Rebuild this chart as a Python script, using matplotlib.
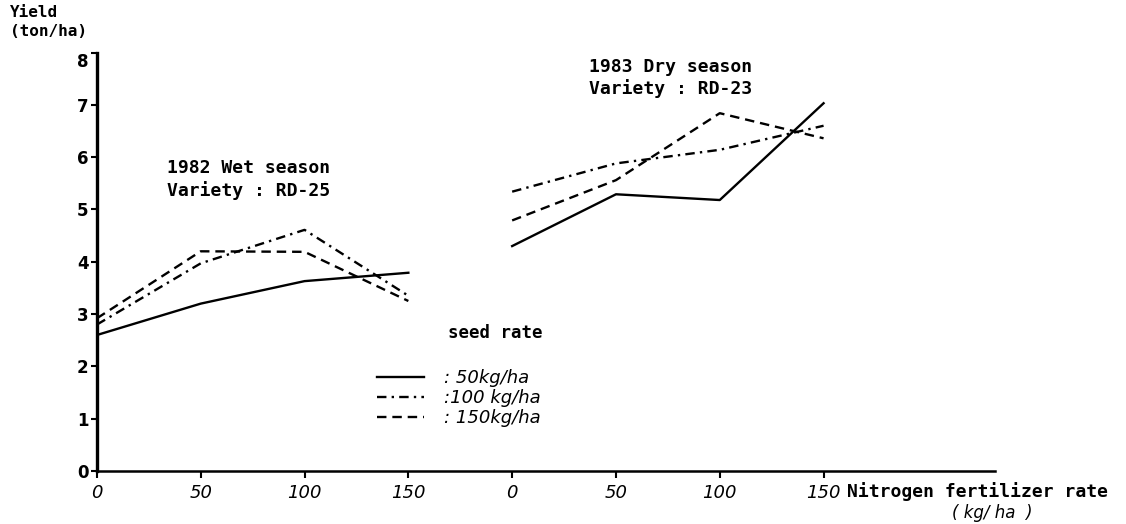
import matplotlib
matplotlib.use('Agg')
import matplotlib.pyplot as plt

# nitrogen rates (kg/ha); the dry season group is drawn to the right of the wet one
n_rate = [0, 50, 100, 150]
dry_offset = 200
x_ticks = [0, 50, 100, 150, 200, 250, 300, 350]
x_tick_labels = ['0', '50', '100', '150', '0', '50', '100', '150']

# 1982 wet season, variety RD-25 (yield, ton/ha)
wet_seed50 = [2.6, 3.2, 3.63, 3.79]
wet_seed100 = [2.8, 3.97, 4.61, 3.35]
wet_seed150 = [2.92, 4.2, 4.19, 3.25]

# 1983 dry season, variety RD-23
dry_seed50 = [4.3, 5.29, 5.18, 7.03]
dry_seed100 = [5.34, 5.88, 6.14, 6.6]
dry_seed150 = [4.79, 5.56, 6.84, 6.36]

seed_labels = [': 50kg/ha', ':100 kg/ha', ': 150kg/ha']

mono = 'DejaVu Sans Mono'

fig = plt.figure(figsize=(11.26, 5.24), dpi=100)
ax = fig.add_axes([0.0861, 0.1011, 0.7976, 0.7987])

dry_x = [v + dry_offset for v in n_rate]
lw = 1.7
solid = dict(color='black', lw=lw, linestyle='-')
dashdot = dict(color='black', lw=lw, linestyle=(0, (4, 2.2, 1, 2.2)))
dashed = dict(color='black', lw=lw, linestyle=(0, (4, 2.5)))

h1, = ax.plot(n_rate, wet_seed50, **solid)
h2, = ax.plot(n_rate, wet_seed100, **dashdot)
h3, = ax.plot(n_rate, wet_seed150, **dashed)
ax.plot(dry_x, dry_seed50, **solid)
ax.plot(dry_x, dry_seed100, **dashdot)
ax.plot(dry_x, dry_seed150, **dashed)

ax.set_xlim(0, 432.6)
ax.set_ylim(0, 8)
ax.set_xticks(x_ticks)
ax.set_xticklabels(x_tick_labels, fontstyle='italic', fontsize=13)
ax.set_yticks(range(0, 9))
ax.set_yticklabels([str(i) for i in range(0, 9)], fontweight='bold', fontsize=12)
# the "8" sits a little below its tick in the original
ax.get_yticklabels()[-1].set_verticalalignment('top')

ax.spines['top'].set_visible(False)
ax.spines['right'].set_visible(False)
ax.spines['left'].set_linewidth(2.4)
ax.spines['bottom'].set_linewidth(1.8)
ax.tick_params(axis='y', length=4, width=1.5, pad=2)
ax.tick_params(axis='x', length=5, width=1.5, pad=4)

fig.text(0.009, 0.99, 'Yield\n(ton/ha)', family=mono, fontweight='bold',
         fontsize=11.5, va='top', ha='left', linespacing=1.3)

ax.text(33.7, 5.97, '1982 Wet season\nVariety : RD-25', family=mono,
        fontweight='bold', fontsize=13, va='top', ha='left', linespacing=1.3)
ax.text(236.8, 7.9, '1983 Dry season\nVariety : RD-23', family=mono,
        fontweight='bold', fontsize=13, va='top', ha='left', linespacing=1.2)
ax.text(169, 2.64, 'seed rate', family=mono, fontweight='bold',
        fontsize=12.5, va='center', ha='left')

ax.legend([h1, h2, h3], seed_labels, loc='upper left',
          bbox_to_anchor=(377 / 1126, 1 - 369 / 524),
          bbox_transform=fig.transFigure, frameon=False, borderpad=0,
          borderaxespad=0, handlelength=2.6, handletextpad=1.1,
          labelspacing=0.12, prop={'style': 'italic', 'size': 13})

fig.text(847 / 1126, 1 - 492 / 524, 'Nitrogen fertilizer rate', family=mono,
         fontweight='bold', fontsize=13, va='center', ha='left')
fig.text(952 / 1126, 1 - 513 / 524, '( kg/ ha  )', fontstyle='italic',
         fontsize=12, va='center', ha='left')

fig.savefig('out.png', dpi=100)
